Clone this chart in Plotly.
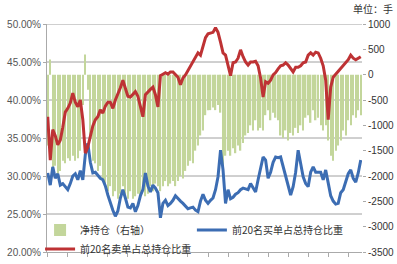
import plotly.graph_objects as go

# Net position (right axis, lots)
net_position = [-1400, 300, -1900, -1800, -2000, -1900, -1700, -1750, -1650, -1700,
                -1600, -1700, -1650, -1500, -600, 400, -300, -1300, -1700, -1750,
                -1900, -1800, -2100, -2200, -2300, -2200, -2400, -2300, -2450, -2350,
                -2200, -2400, -2450, -2300, -2450, -2400, -2350, -2450, -2300, -2400,
                -2350, -2200, -2300, -2150, -2200, -2300, -2200, -2100, -2200, -2150,
                -2100, -2200, -2100, -2000, -2050, -1900, -1800, -1700, -1750, -1500,
                -1400, -1200, -1100, -800, -700, -700, -650, -700, -600, -750,
                -1800, -1600, -1500, -1600, -1450, -1550, -1400, -1500, -1350, -1200,
                -1150, -1000, -1100, -900, -1100, -1050, -1100, -800, -700, -900,
                -750, -850, -900, -1200, -1250, -1100, -1300, -1150, -1200, -1050,
                -1150, -1000, -1100, -850, -800, -950, -700, -900, -850, -1000,
                -1100, -1000, -1300, -1600, -1700, -1500, -1400, -1300, -1100, -1200,
                -900, -1000, -800, -850, -700, -800]

# Top-20 buy orders share of total open interest (%)
buy_share = [30.4, 28.8, 31.2, 29.7, 30.3, 28.8, 29.0, 28.6, 28.2, 29.0,
             30.0, 30.3, 29.5, 30.7, 29.5, 32.8, 34.3, 31.8, 30.4, 30.5,
             30.1, 29.7, 29.5, 28.7, 27.5, 26.4, 25.5, 24.7, 25.4, 27.1,
             28.2, 27.1, 25.9, 25.8, 26.4, 25.3, 26.1, 27.4, 28.2, 30.4,
             28.7, 27.9, 28.8, 28.4, 27.8, 24.5, 26.4, 26.8, 26.1, 26.4,
             26.8, 27.4, 27.0, 26.7, 26.4, 26.1, 25.7, 25.8, 25.9, 25.5,
             25.3, 26.7, 27.6, 26.8, 26.4, 26.8, 27.1, 28.2, 29.9, 33.4,
             30.8, 26.4, 28.2, 27.0, 27.2, 27.6, 27.8, 28.2, 28.4, 28.3,
             28.2, 29.0, 28.4, 27.9, 29.5, 31.2, 32.5, 32.1, 29.7, 30.5,
             31.8, 32.5, 32.4, 32.5, 31.3, 30.0, 29.0, 27.5, 28.6, 30.5,
             33.4, 31.6, 29.9, 29.0, 28.6, 30.5, 31.2, 30.5, 30.5, 30.5,
             29.5, 30.8, 29.1, 27.4, 26.7, 26.3, 26.4, 27.8, 28.2, 29.2,
             30.3, 30.8, 29.7, 29.2, 30.4, 32.1]

# Top-20 sell orders share of total open interest (%)
sell_share = [37.8, 32.1, 36.1, 35.3, 34.1, 34.7, 36.4, 38.4, 38.9, 39.6,
              40.9, 39.7, 39.1, 40.0, 37.4, 33.0, 33.8, 35.4, 36.6, 37.4,
              37.8, 38.7, 38.3, 39.2, 39.7, 39.7, 38.9, 40.0, 40.7, 41.6,
              42.6, 41.6, 40.5, 40.4, 40.7, 41.1, 40.5, 39.3, 37.8, 40.7,
              41.1, 41.4, 41.7, 40.7, 39.1, 43.2, 43.4, 43.6, 43.4, 43.7,
              43.7, 43.3, 43.0, 42.0, 42.9, 43.3, 43.9, 44.3, 44.9, 45.7,
              46.2, 45.9, 47.0, 48.2, 48.7, 48.8, 48.9, 49.5, 48.9, 47.6,
              46.2, 45.9, 44.6, 43.2, 44.9, 45.0, 45.5, 46.6, 45.7, 45.0,
              44.6, 45.0, 45.0, 45.1, 44.5, 42.9, 40.4, 42.4, 42.2, 42.6,
              43.3, 43.6, 44.1, 44.5, 44.6, 44.9, 44.6, 44.2, 43.7, 44.3,
              44.3, 44.5, 44.9, 45.0, 45.9, 46.2, 45.9, 46.3, 46.2, 45.5,
              44.5, 42.6, 37.4, 41.7, 43.0, 43.4, 43.8, 44.2, 44.6, 44.9,
              45.3, 45.9, 45.5, 45.3, 45.5, 45.7]

dates = list(range(len(net_position)))

left_ticks = [20, 25, 30, 35, 40, 45, 50]
right_ticks = [1000, 500, 0, -500, -1000, -1500, -2000, -2500, -3000, -3500]

font_cn = "Noto Sans CJK SC"
font_num = "Liberation Sans"

fig = go.Figure()
fig.add_trace(go.Bar(x=dates, y=net_position, name="净持仓（右轴）",
                     marker=dict(color="#c3d69b", line=dict(width=0)),
                     yaxis="y", legend="legend"))
fig.add_trace(go.Scatter(x=dates, y=buy_share, name="前20名买单占总持仓比重",
                         mode="lines", line=dict(color="#3c6db3", width=3),
                         yaxis="y2", legend="legend2"))
fig.add_trace(go.Scatter(x=dates, y=sell_share, name="前20名卖单占总持仓比重",
                         mode="lines", line=dict(color="#be3234", width=3),
                         yaxis="y2", legend="legend"))

gridlines = [dict(type="line", xref="paper", x0=0, x1=1, yref="y2", y0=v, y1=v,
                  line=dict(color="#a0a0a0", width=1), layer="below")
             for v in left_ticks[1:]]

legend_font = dict(family=font_cn, size=10, color="#333333")

fig.update_layout(
    width=397, height=264,
    margin=dict(l=47, r=35, t=24, b=12, autoexpand=False),
    paper_bgcolor="white", plot_bgcolor="white",
    bargap=0.45,
    showlegend=True,
    legend=dict(orientation="v", x=-0.022, xanchor="left", y=0.16, yanchor="top",
                bgcolor="rgba(0,0,0,0)", font=legend_font,
                tracegroupgap=0, itemwidth=30),
    legend2=dict(orientation="v", x=0.46, xanchor="left", y=0.16, yanchor="top",
                 bgcolor="rgba(0,0,0,0)", font=legend_font, itemwidth=30),
    shapes=gridlines,
    xaxis=dict(range=[-0.3, len(dates) - 0.5], showticklabels=False,
               showgrid=False, zeroline=False, showline=True, linecolor="#aaaaaa",
               ticks="outside", ticklen=4, tickcolor="#aaaaaa",
               tickmode="array", tickvals=list(range(0, len(dates), 8))),
    yaxis=dict(side="right", range=[-3500, 1000], tickvals=right_ticks,
               ticktext=[str(v) for v in right_ticks],
               showgrid=False, zeroline=False, showline=False,
               ticks="outside", ticklen=3, tickcolor="#aaaaaa",
               tickfont=dict(family=font_num, size=10, color="#333333")),
    yaxis2=dict(side="left", overlaying="y", range=[20, 50], tickvals=left_ticks,
                ticktext=[f"{v:.2f}%" for v in left_ticks],
                showgrid=False, zeroline=False, showline=True, linecolor="#aaaaaa",
                ticks="outside", ticklen=3, tickcolor="#aaaaaa",
                tickfont=dict(family=font_num, size=10, color="#555555")),
    annotations=[dict(text="单位：手", xref="paper", yref="paper",
                      x=1.105, y=1.07, xanchor="right", yanchor="middle",
                      showarrow=False,
                      font=dict(family=font_cn, size=10, color="#333333"))],
)

fig.write_html("out.html")
